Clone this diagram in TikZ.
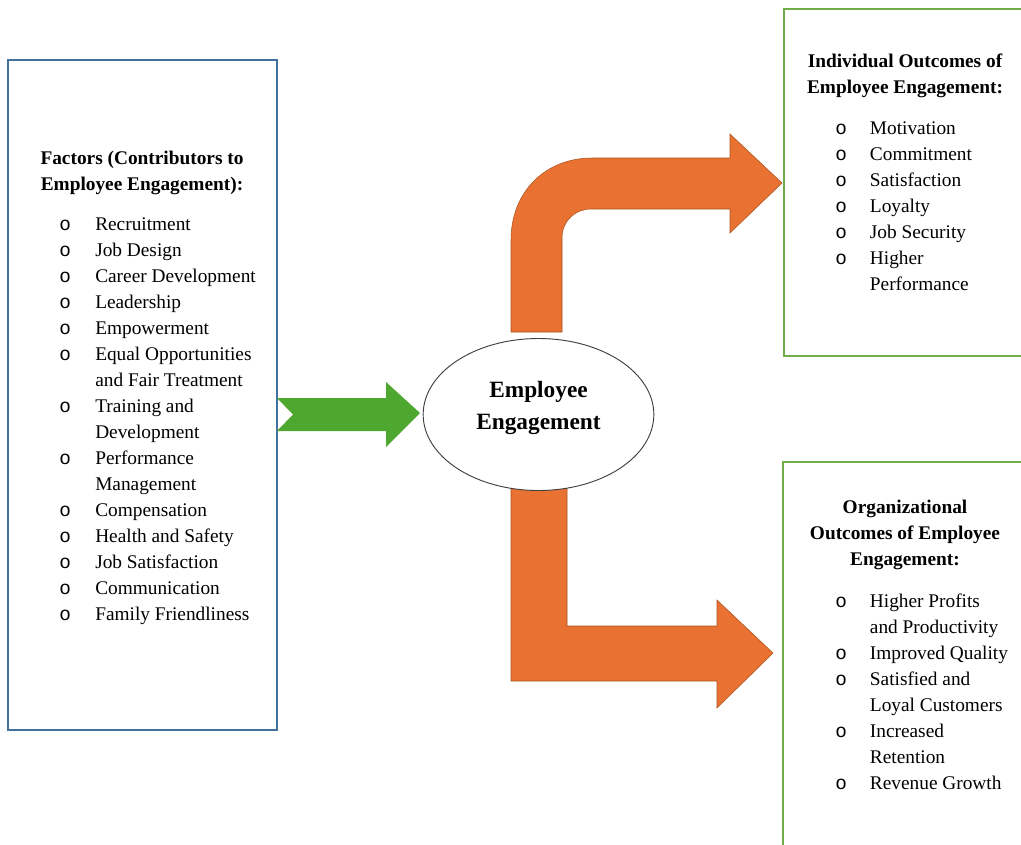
\documentclass[tikz,border=0pt]{standalone}
\usepackage{fontspec}
\setmainfont{Liberation Serif}
\newfontfamily\bulletfont{Liberation Mono}
\usepackage{array}
\usetikzlibrary{shapes.geometric}

\definecolor{arroworange}{HTML}{E97132}
\definecolor{orangeedge}{HTML}{A9541E}
\definecolor{arrowgreen}{HTML}{4EA72E}
\definecolor{boxgreen}{HTML}{70AD47}
\definecolor{boxblue}{HTML}{41719C}

\newcommand{\listfont}{\fontsize{14.5}{19.5}\selectfont}
\newcommand{\headfont}{\fontsize{14.5}{19.5}\selectfont\bfseries}
\newcommand{\bul}{{\bulletfont o}}

\tikzset{
  bluebox/.style={draw=boxblue, line width=0.9pt},
  greenbox/.style={draw=boxgreen, line width=1pt},
  heading/.style={font=\headfont, align=center, inner sep=0pt},
  itemlist/.style={anchor=north west, inner sep=0pt, font=\listfont},
  bentarrow/.style={fill=arroworange, draw=orangeedge, line width=0.4pt},
  engagement/.style={ellipse, draw=black!75, fill=white, line width=0.7pt,
    minimum width=173pt, minimum height=114pt, align=center, text depth=14pt,
    font=\fontsize{17.5}{24}\selectfont\bfseries}
}

\begin{document}
\begin{tikzpicture}[x=0.75pt, y=-0.75pt]
  \useasboundingbox (0,0) rectangle (1021,844);
  \clip (0,0) rectangle (1021,844);

  % boxes
  \draw[bluebox] (8,60) rectangle (277,730);
  \draw[greenbox] (784,9) rectangle (1040,356);
  \draw[greenbox] (783,462) rectangle (1040,860);

  % factors
  \node[heading] (factorshead) at (142,173)
    {Factors (Contributors to\\Employee Engagement):};
  \node[itemlist] (factors) at (59,212) {%
    \begin{tabular}{@{}p{27pt}@{}l@{}}
      \bul & Recruitment\\
      \bul & Job Design\\
      \bul & Career Development\\
      \bul & Leadership\\
      \bul & Empowerment\\
      \bul & Equal Opportunities\\
           & and Fair Treatment\\
      \bul & Training and\\
           & Development\\
      \bul & Performance\\
           & Management\\
      \bul & Compensation\\
      \bul & Health and Safety\\
      \bul & Job Satisfaction\\
      \bul & Communication\\
      \bul & Family Friendliness
    \end{tabular}};

  % individual outcomes
  \node[heading] (indivhead) at (905,75.5)
    {Individual Outcomes of\\Employee Engagement:};
  \node[itemlist] (indiv) at (835,116) {%
    \begin{tabular}{@{}p{26pt}@{}l@{}}
      \bul & Motivation\\
      \bul & Commitment\\
      \bul & Satisfaction\\
      \bul & Loyalty\\
      \bul & Job Security\\
      \bul & Higher\\
           & Performance
    \end{tabular}};

  % organizational outcomes
  \node[heading] (orghead) at (905,535)
    {Organizational\\Outcomes of Employee\\Engagement:};
  \node[itemlist] (org) at (835,589) {%
    \begin{tabular}{@{}p{26pt}@{}l@{}}
      \bul & Higher Profits\\
           & and Productivity\\
      \bul & Improved Quality\\
      \bul & Satisfied and\\
           & Loyal Customers\\
      \bul & Increased\\
           & Retention\\
      \bul & Revenue Growth
    \end{tabular}};

  % block arrows
  \fill[arrowgreen] (277,398) -- (386,398) -- (386,382) -- (420,413)
    -- (386,447) -- (386,431) -- (277,431) -- (293,414.5) -- cycle;
  \draw[bentarrow] (511,332) -- (511,240)
    .. controls (511,192) and (545,158) .. (592,158)
    -- (730,158) -- (730,134) -- (782,183) -- (730,233) -- (730,209)
    -- (591,209) .. controls (575,209) and (562,221) .. (562,238)
    -- (562,332) -- cycle;
  \draw[bentarrow] (511,470) -- (511,681) -- (717,681) -- (717,708)
    -- (773,653) -- (717,600) -- (717,626) -- (567,626) -- (567,470) -- cycle;

  \node[engagement] (engage) at (538.5,414.5) {Employee\\Engagement};
\end{tikzpicture}
\end{document}
